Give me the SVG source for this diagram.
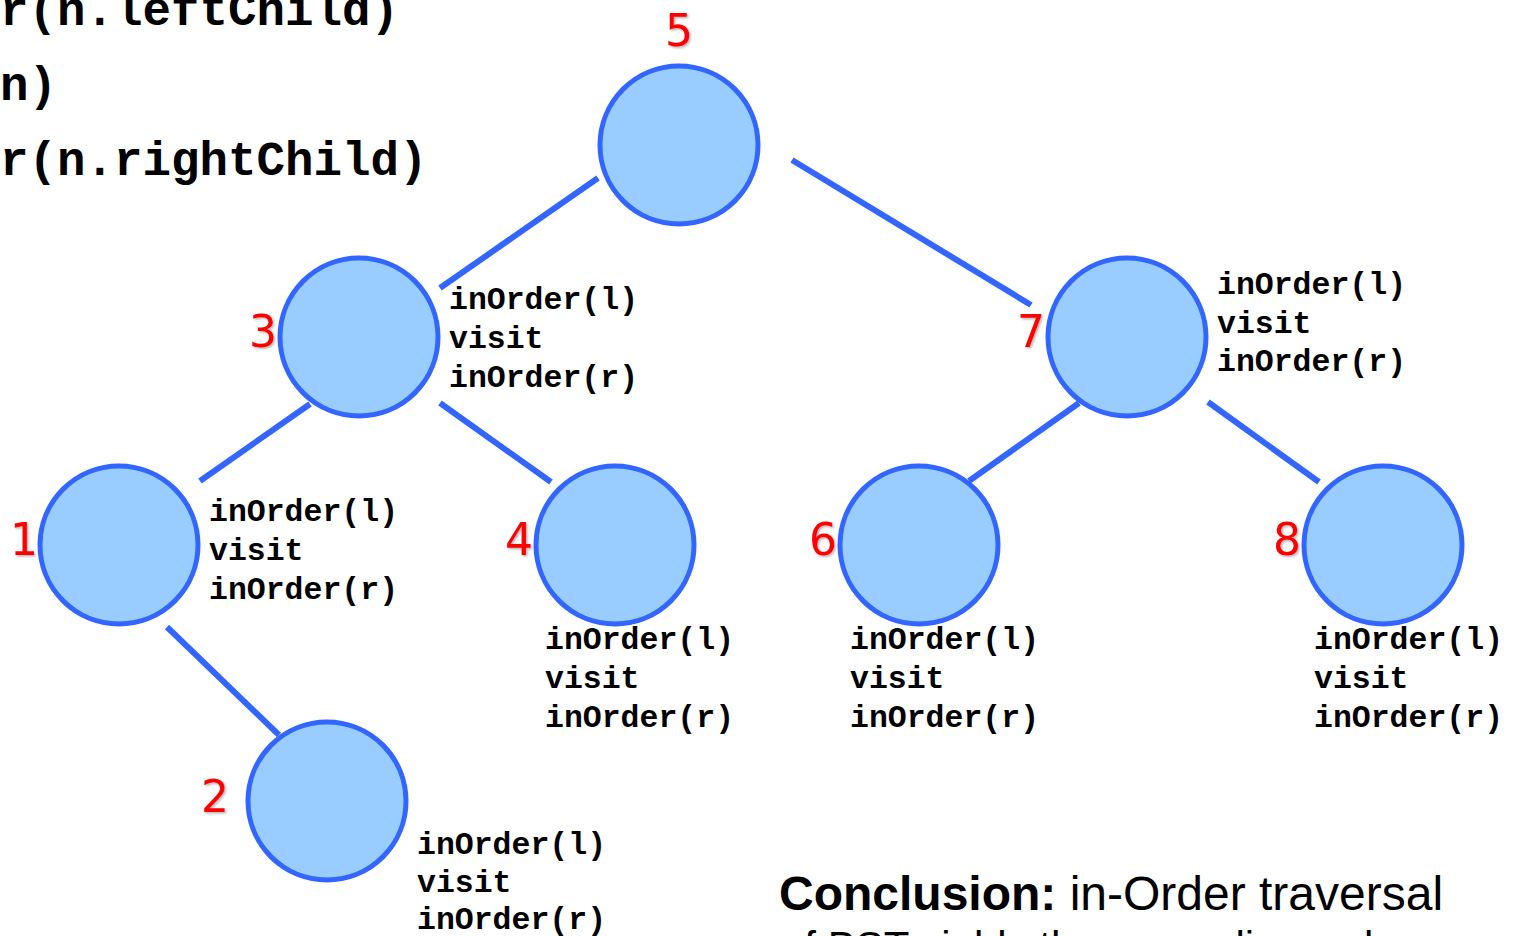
<svg xmlns="http://www.w3.org/2000/svg" width="1513" height="936" viewBox="0 0 1513 936">
<defs>
<filter id="sh" x="-20%" y="-20%" width="140%" height="140%"><feDropShadow dx="1.5" dy="1.5" stdDeviation="0.8" flood-color="#000" flood-opacity="0.3"/></filter>
<style>
.nd{fill:#99ccff;stroke:#3366ff;stroke-width:5}
.ed{stroke:#3366ff;stroke-width:6;fill:none}
.num{font-family:"DejaVu Sans",sans-serif;font-size:44px;fill:#ff0000;text-anchor:middle;filter:url(#sh)}
.lb{font-family:"Liberation Mono",monospace;font-weight:bold;font-size:31.5px;fill:#000}
.code{font-family:"Liberation Mono",monospace;font-weight:bold;font-size:47.5px;fill:#000}
.cc{font-family:"Liberation Sans",Arial,sans-serif;fill:#000}
</style>
</defs>
<rect width="1513" height="936" fill="#fff"/>
<g id="code">
<text class="code" x="0" y="25">r(n.leftChild)</text>
<text class="code" x="0" y="100">n)</text>
<text class="code" x="0" y="175">r(n.rightChild)</text>
</g>
<g id="connectors">
<line class="ed" x1="598" y1="178" x2="440" y2="288"/>
<line class="ed" x1="792" y1="160" x2="1031" y2="305"/>
<line class="ed" x1="310" y1="404" x2="200" y2="481"/>
<line class="ed" x1="440" y1="403" x2="551" y2="482"/>
<line class="ed" x1="1079" y1="403" x2="969" y2="481"/>
<line class="ed" x1="1208" y1="402" x2="1319" y2="482"/>
<line class="ed" x1="167" y1="627" x2="279" y2="735"/>
</g>
<g id="n5">
<circle class="nd" cx="679" cy="145" r="79"/>
<text class="num" x="679" y="46">5</text>
</g>
<g id="n3">
<circle class="nd" cx="359" cy="337" r="79"/>
<text class="num" x="263" y="347">3</text>
<text class="lb" x="449" y="309">inOrder(l)</text>
<text class="lb" x="449" y="348">visit</text>
<text class="lb" x="449" y="387">inOrder(r)</text>
</g>
<g id="n7">
<circle class="nd" cx="1127" cy="337" r="79"/>
<text class="num" x="1031" y="347">7</text>
<text class="lb" x="1217" y="294">inOrder(l)</text>
<text class="lb" x="1217" y="333">visit</text>
<text class="lb" x="1217" y="371">inOrder(r)</text>
</g>
<g id="n1">
<circle class="nd" cx="119" cy="545" r="79"/>
<text class="num" x="24" y="555">1</text>
<text class="lb" x="209" y="521">inOrder(l)</text>
<text class="lb" x="209" y="560">visit</text>
<text class="lb" x="209" y="599">inOrder(r)</text>
</g>
<g id="n4">
<circle class="nd" cx="615" cy="545" r="79"/>
<text class="num" x="519" y="555">4</text>
<text class="lb" x="545" y="649">inOrder(l)</text>
<text class="lb" x="545" y="688">visit</text>
<text class="lb" x="545" y="727">inOrder(r)</text>
</g>
<g id="n6">
<circle class="nd" cx="919" cy="545" r="79"/>
<text class="num" x="823" y="555">6</text>
<text class="lb" x="850" y="649">inOrder(l)</text>
<text class="lb" x="850" y="688">visit</text>
<text class="lb" x="850" y="727">inOrder(r)</text>
</g>
<g id="n8">
<circle class="nd" cx="1383" cy="545" r="79"/>
<text class="num" x="1287" y="555">8</text>
<text class="lb" x="1314" y="649">inOrder(l)</text>
<text class="lb" x="1314" y="688">visit</text>
<text class="lb" x="1314" y="727">inOrder(r)</text>
</g>
<g id="n2">
<circle class="nd" cx="327" cy="801" r="79"/>
<text class="num" x="215" y="812">2</text>
<text class="lb" x="417" y="854">inOrder(l)</text>
<text class="lb" x="417" y="892">visit</text>
<text class="lb" x="417" y="929">inOrder(r)</text>
</g>
<g id="conclusion">
<text class="cc" x="779" y="910" font-size="48"><tspan font-weight="bold">Conclusion:</tspan> in-Order traversal</text>
<text class="cc" x="781" y="961" font-size="42">of BST yields the ascending order</text>
</g>
</svg>
